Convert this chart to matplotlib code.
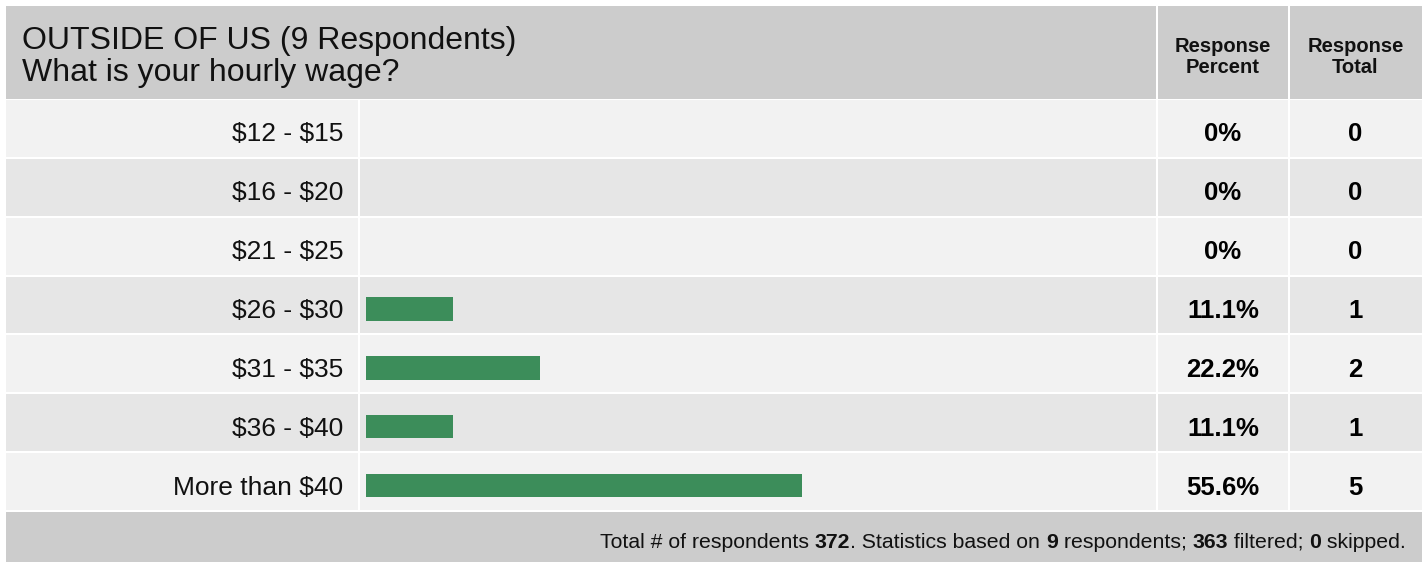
import matplotlib.pyplot as plt
from matplotlib.patches import Rectangle

# data
categories = ["$12 - $15", "$16 - $20", "$21 - $25", "$26 - $30",
              "$31 - $35", "$36 - $40", "More than $40"]
percents = [0, 0, 0, 11.1, 22.2, 11.1, 55.6]
totals = [0, 0, 0, 1, 2, 1, 5]
title_lines = ["OUTSIDE OF US (9 Respondents)", "What is your hourly wage?"]
col_headers = ["Response\nPercent", "Response\nTotal"]
footer_parts = [("Total # of respondents ", False), ("372", True),
                (". Statistics based on ", False), ("9", True),
                (" respondents; ", False), ("363", True),
                (" filtered; ", False), ("0", True), (" skipped.", False)]

W, H = 1424, 562
plt.rcParams['font.family'] = ['Liberation Sans', 'DejaVu Sans']

fig = plt.figure(figsize=(W / 100, H / 100), dpi=100)
fig.patch.set_facecolor("white")

# background axes in pixel units for the table layout
ax = fig.add_axes([0, 0, 1, 1])
ax.set_xlim(0, W)
ax.set_ylim(H, 0)
ax.axis("off")

header_grey = "#cccccc"
row_cols = ["#f2f2f2", "#e6e6e6"]
left, right = 6, 1422
c1, c2, c3 = 359, 1157, 1289   # column separators
top_rows = 100
pitch = (512 - top_rows) / len(categories)
gap = 2

# header
ax.add_patch(Rectangle((left, 6), c2 - left - 1, 93, color=header_grey, lw=0))
ax.add_patch(Rectangle((c2 + 1, 6), c3 - c2 - 2, 93, color=header_grey, lw=0))
ax.add_patch(Rectangle((c3 + 1, 6), right - c3 - 1, 93, color=header_grey, lw=0))
ax.text(22, 57, "\n".join(title_lines), fontsize=23, ha="left", va="center",
        linespacing=1.08, color="#111111", parse_math=False)
for xc, txt in zip([(c2 + c3) / 2, (c3 + right) / 2], col_headers):
    ax.text(xc, 57, txt, fontsize=14.5, fontweight="bold", ha="center",
            va="center", linespacing=1.15, color="#111111")

# rows
for i, cat in enumerate(categories):
    y0 = top_rows + i * pitch
    h = pitch - gap
    col = row_cols[i % 2]
    ax.add_patch(Rectangle((left, y0), c1 - left - 1, h, color=col, lw=0))
    ax.add_patch(Rectangle((c1 + 1, y0), c2 - c1 - 2, h, color=col, lw=0))
    ax.add_patch(Rectangle((c2 + 1, y0), c3 - c2 - 2, h, color=col, lw=0))
    ax.add_patch(Rectangle((c3 + 1, y0), right - c3 - 1, h, color=col, lw=0))
    yc = y0 + h / 2 + 6
    ax.text(343, yc, cat, fontsize=19, ha="right", va="center",
            color="#111111", parse_math=False)
    pct = "0%" if percents[i] == 0 else f"{percents[i]:.1f}%"
    ax.text((c2 + c3) / 2, yc, pct, fontsize=18.5, fontweight="bold",
            ha="center", va="center", color="#000000")
    ax.text((c3 + right) / 2, yc, str(totals[i]), fontsize=18.5,
            fontweight="bold", ha="center", va="center", color="#000000")

# footer
ax.add_patch(Rectangle((left, 512), right - left, H - 512, color=header_grey, lw=0))
prev = None
for txt, bold in reversed(footer_parts):
    kw = dict(fontsize=15.3, fontweight="bold" if bold else "normal",
              color="#111111", ha="right", va="bottom")
    if prev is None:
        prev = ax.annotate(txt, xy=(1406, 552), xycoords="data", **kw)
    else:
        prev = ax.annotate(txt, xy=(0, 0), xycoords=prev, **kw)

# bars on their own axes, 0-100 percent across the bar column
bx = fig.add_axes([366 / W, (H - 512 - 3) / H, (1150 - 366) / W, (512 - top_rows) / H])
bx.set_xlim(0, 100)
bx.set_ylim(len(categories) - 0.5, -0.5)
bx.barh(range(len(categories)), percents, height=0.4, color="#3c8d5a")
bx.patch.set_alpha(0)
bx.axis("off")

fig.savefig("out.png", dpi=100)
